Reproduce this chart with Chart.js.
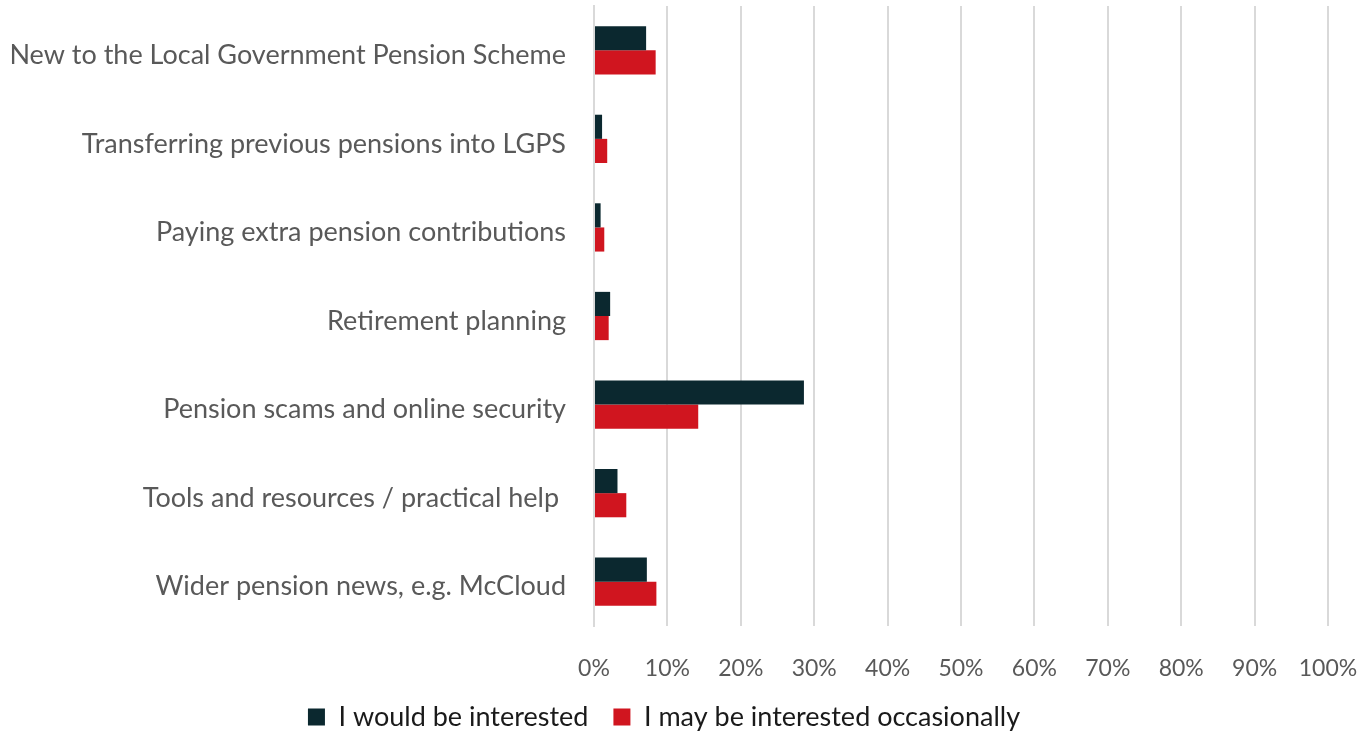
<!DOCTYPE html>
<html><head><meta charset="utf-8">
<script src="https://cdn.jsdelivr.net/npm/chart.js@4"></script>
<style>html,body{margin:0;padding:0;background:#fff;}#wrap{width:1370px;height:733px;}</style>
</head><body><div id="wrap"><canvas id="c" width="1370" height="733"></canvas></div>
<script>
const categories = [
  "New to the Local Government Pension Scheme",
  "Transferring previous pensions into LGPS",
  "Paying extra pension contributions",
  "Retirement planning",
  "Pension scams and online security",
  "Tools and resources / practical help ",
  "Wider pension news, e.g. McCloud"
];
const seriesNames = ["I would be interested", "I may be interested occasionally"];
const wouldBeInterested = [7.1, 1.1, 0.9, 2.2, 28.6, 3.2, 7.2];
const mayBeInterested = [8.4, 1.8, 1.4, 2.0, 14.2, 4.4, 8.5];
const xTicks = [0,10,20,30,40,50,60,70,80,90,100];

const FONT = "Lato";
const lay = {padTop: 6, padRight: 42, padBottom: 0, xHeight: 70};
const chart = new Chart(document.getElementById('c'), {
  type: 'bar',
  data: {
    labels: categories,
    datasets: [
      {label: seriesNames[0], data: wouldBeInterested, backgroundColor: '#0b282f', categoryPercentage: 0.545, barPercentage: 1},
      {label: seriesNames[1], data: mayBeInterested, backgroundColor: '#d0151f', categoryPercentage: 0.545, barPercentage: 1}
    ]
  },
  options: {
    indexAxis: 'y',
    responsive: false,
    animation: false,
    layout: {padding: {top: lay.padTop, right: lay.padRight, left: 0, bottom: lay.padBottom}},
    plugins: {
      legend: {
        position: 'bottom',
        labels: {boxWidth: 17, boxHeight: 17, color: '#1a1a1a', font: {family: FONT, size: 27}, padding: 25}
      },
      tooltip: {enabled: false}
    },
    scales: {
      x: {
        min: 0, max: 100,
        afterBuildTicks: s => { s.ticks = xTicks.map(v => ({value: v})); },
        ticks: {color: '#595959', font: {family: FONT, size: 23}, padding: 29, callback: v => v + '%'},
        grid: {color: '#d9d9d9', lineWidth: 2, drawTicks: false},
        border: {display: false},
        afterFit: s => { s.height = lay.xHeight; s.paddingLeft = 0; s.paddingRight = 0; }
      },
      y: {
        ticks: {color: '#595959', font: {family: FONT, size: 27}, padding: 28, autoSkip: false, labelOffset: 5},
        grid: {display: false, drawTicks: false},
        border: {display: true, color: '#d9d9d9', width: 2},
        afterFit: s => { s.width = 594; s.paddingTop = 0; s.paddingBottom = 0; }
      }
    }
  }
});

function applyLayout() {
  chart.options.layout.padding = {top: lay.padTop, right: lay.padRight, left: 0, bottom: lay.padBottom};
  chart.update();
}
for (let i = 0; i < 4; i++) {
  const ca = chart.chartArea;
  lay.padTop += 6 - ca.top;
  lay.padRight += ca.right - 1328;
  const hb = chart.legend.legendHitBoxes[0];
  const lc = hb.top + hb.height / 2;
  const dl = 717 - lc;
  lay.padBottom -= dl;
  const db = 626 - (ca.bottom + dl);
  lay.xHeight -= db;
  applyLayout();
}
</script></body></html>
